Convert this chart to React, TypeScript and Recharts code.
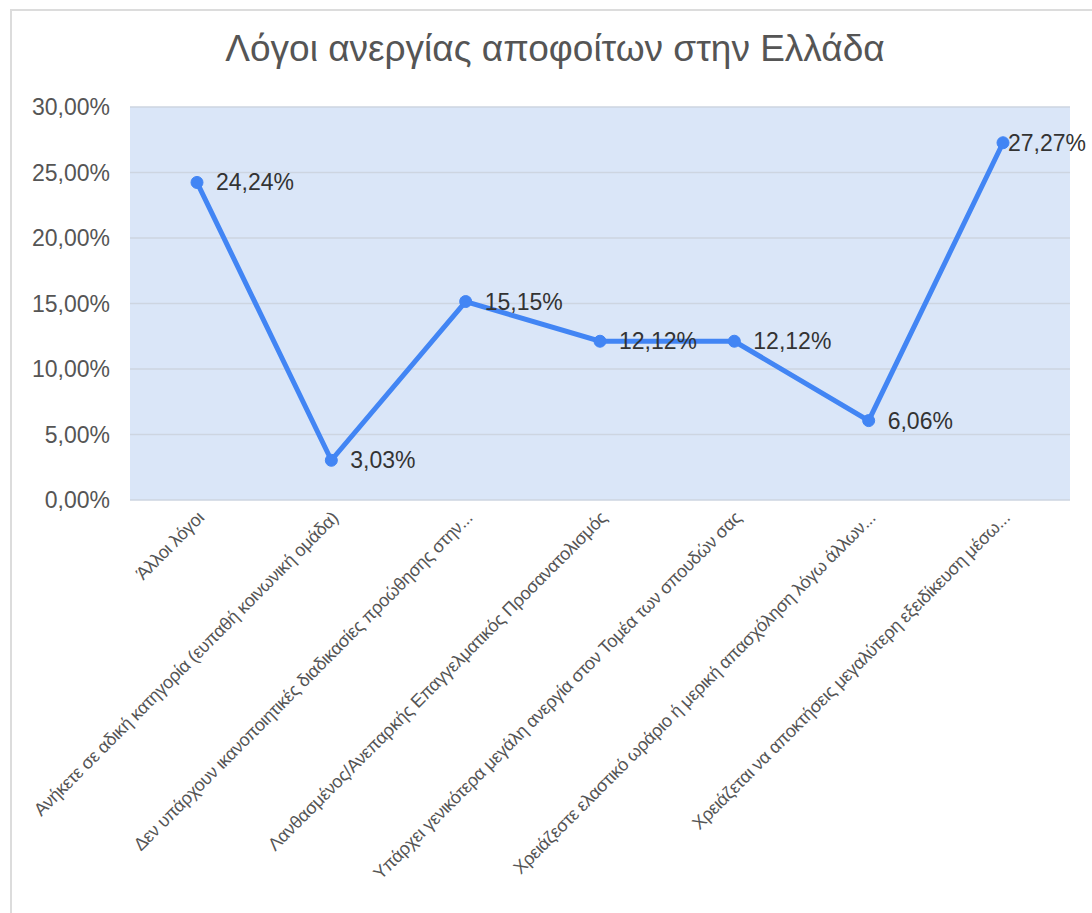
import React from "react";
import {
  LineChart,
  Line,
  XAxis,
  YAxis,
  CartesianGrid,
  LabelList,
} from "recharts";

const categories = [
  "Άλλοι λόγοι",
  "Ανήκετε σε αδική κατηγορία (ευπαθή κοινωνική ομάδα)",
  "Δεν υπάρχουν ικανοποιητικές διαδικασίες προώθησης στην...",
  "Λανθασμένος/Ανεπαρκής Επαγγελματικός Προσανατολισμός",
  "Υπάρχει γενικότερα μεγάλη ανεργία στον Τομέα των σπουδών σας",
  "Χρειάζεστε ελαστικό ωράριο ή μερική απασχόληση λόγω άλλων...",
  "Χρειάζεται να αποκτήσεις μεγαλύτερη εξειδίκευση μέσω...",
];

const shares = [0.2424, 0.0303, 0.1515, 0.1212, 0.1212, 0.0606, 0.2727];

const yTicks = [0, 0.05, 0.1, 0.15, 0.2, 0.25, 0.3];

const data = categories.map((name, i) => ({ name, value: shares[i] }));

const pct = (v: number) => (v * 100).toFixed(2).replace(".", ",") + "%";

const FONT = "'Liberation Sans', Arial, sans-serif";

const CategoryTick = (props: any) => {
  const { x, y, payload } = props;
  const ax = x + 8;
  const ay = y + 11;
  return (
    <text
      x={ax}
      y={ay}
      transform={`rotate(-45, ${ax}, ${ay})`}
      textAnchor="end"
      fill="#555"
      fontSize={18}
      letterSpacing={-0.3}
      fontFamily={FONT}
    >
      {payload.value}
    </text>
  );
};

const PointLabel = (props: any) => {
  const { x, y, value, index } = props;
  const last = index === shares.length - 1;
  return (
    <text
      x={x + (last ? 5 : 19)}
      y={y}
      dy={8}
      fill="#333"
      fontSize={23}
      fontFamily={FONT}
    >
      {pct(value)}
    </text>
  );
};

export default function App() {
  return (
    <div
      style={{
        position: "absolute",
        left: 0,
        top: 0,
        width: 1092,
        height: 913,
        background: "#fff",
        overflow: "hidden",
      }}
    >
      <div
        style={{
          position: "absolute",
          left: 10,
          top: 9,
          width: 1100,
          height: 920,
          border: "2px solid #dcdcdc",
          boxSizing: "border-box",
        }}
      />
      <div
        style={{
          position: "absolute",
          left: 0,
          top: 28,
          width: 1110,
          textAlign: "center",
          fontSize: 37,
          color: "#555",
          fontFamily: FONT,
        }}
      >
        Λόγοι ανεργίας αποφοίτων στην Ελλάδα
      </div>
      <div style={{ position: "absolute", left: 0, top: 0 }}>
        <LineChart
          width={1092}
          height={913}
          data={data}
          margin={{ top: 107, right: 22, left: 40, bottom: 13 }}
        >
          <CartesianGrid
            vertical={false}
            stroke="#cdd5e1"
            strokeWidth={1.5}
            fill="#dae6f8"
            fillOpacity={1}
          />
          <XAxis
            dataKey="name"
            interval={0}
            height={400}
            padding={{ left: 67, right: 67 }}
            tick={<CategoryTick />}
            tickLine={false}
            axisLine={false}
          />
          <YAxis
            width={90}
            domain={[0, 0.3]}
            ticks={yTicks}
            tickFormatter={pct}
            tick={{ fill: "#555", fontSize: 23, fontFamily: FONT }}
            tickLine={false}
            axisLine={false}
            tickMargin={14}
          />
          <Line
            dataKey="value"
            stroke="#4285f4"
            strokeWidth={5}
            dot={{ r: 6, fill: "#4285f4", stroke: "#4285f4", strokeWidth: 1 }}
            isAnimationActive={false}
          >
            <LabelList dataKey="value" content={<PointLabel />} />
          </Line>
        </LineChart>
      </div>
    </div>
  );
}
